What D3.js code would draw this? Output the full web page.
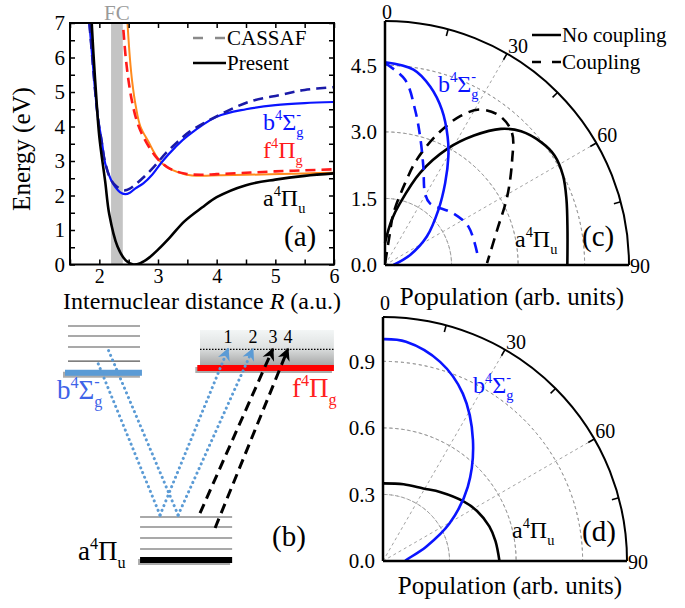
<!DOCTYPE html>
<html>
<head>
<meta charset="utf-8">
<script src="https://cdn.jsdelivr.net/npm/d3@7"></script>
<style>
  body { margin: 0; background: #fff; }
  svg text { font-family: "Liberation Serif", "Times New Roman", Tinos, "DejaVu Serif", serif !important; }
  .tick text { font-size: 21px; fill: #000; }
  .xaxis .tick text { font-size: 20px; }
  .tick line { stroke: #000; stroke-width: 1.5; }
</style>
</head>
<body>
<svg id="fig" width="685" height="608" font-family="Liberation Serif, DejaVu Serif, serif"></svg>
<script>
// ---- panel (a): potential curves, energy (eV) vs R (a.u.) ----
var rTicks = [1.5, 2, 2.5, 3, 3.5, 4, 4.5, 5, 5.5, 6];
var eTicks = [0, 0.5, 1, 1.5, 2, 2.5, 3, 3.5, 4, 4.5, 5, 5.5, 6, 6.5, 7];
var fcBand = [2.2, 2.4];

var aPiR = [1.87, 1.9, 1.95, 2.0, 2.1, 2.17, 2.31, 2.45, 2.58, 2.7, 2.85, 3.0, 3.2, 3.45, 3.75, 4.0, 4.5, 5.0, 5.5, 6.0];
var aPiE = [7.0, 6.1, 4.8, 3.7, 2.4, 1.45, 0.52, 0.12, 0.0, 0.04, 0.2, 0.43, 0.78, 1.25, 1.65, 1.95, 2.3, 2.46, 2.57, 2.64];

var bSigR = [1.83, 1.88, 1.93, 1.98, 2.04, 2.1, 2.2, 2.27, 2.35, 2.44, 2.52, 2.61, 2.75, 2.9, 3.07, 3.3, 3.5, 4.0, 4.5, 5.0, 5.5, 6.0];
var bSigE = [7.0, 6.0, 5.0, 4.2, 3.6, 2.93, 2.45, 2.25, 2.1, 2.04, 2.08, 2.2, 2.35, 2.6, 2.98, 3.41, 3.72, 4.28, 4.5, 4.62, 4.68, 4.71];

var bSigCasR = [1.83, 1.88, 1.93, 1.98, 2.04, 2.1, 2.2, 2.3, 2.43, 2.52, 2.61, 2.75, 2.93, 3.13, 3.3, 3.54, 4.04, 4.56, 5.07, 5.5, 6.0];
var bSigCasE = [7.0, 6.0, 5.0, 4.2, 3.55, 2.95, 2.45, 2.25, 2.15, 2.2, 2.31, 2.52, 2.83, 3.22, 3.5, 3.85, 4.33, 4.72, 4.91, 5.06, 5.14];

var fPiR = [2.48, 2.52, 2.56, 2.62, 2.7, 2.84, 2.95, 3.07, 3.24, 3.47, 3.73, 4.04, 4.5, 5.07, 5.5, 6.0];
var fPiE = [7.0, 6.0, 5.3, 4.6, 4.0, 3.55, 3.2, 2.93, 2.74, 2.61, 2.57, 2.59, 2.6, 2.62, 2.64, 2.66];

var fPiCasR = [2.41, 2.45, 2.5, 2.56, 2.65, 2.75, 2.85, 3.0, 3.2, 3.47, 3.75, 4.0, 4.5, 5.0, 5.5, 6.0];
var fPiCasE = [6.8, 6.0, 5.3, 4.7, 4.1, 3.7, 3.4, 3.05, 2.78, 2.63, 2.6, 2.62, 2.66, 2.7, 2.73, 2.76];

// ---- panels (c) and (d): polar populations, angle (deg) and radius ----
var cRadTicks = [0, 1.5, 3.0, 4.5];
var dRadTicks = [0, 0.3, 0.6, 0.9];
var angleLabels = [0, 30, 60, 90];

var cANoTh = [0, 8.5, 13.7, 20.9, 28.2, 34.5, 40.4, 45.5, 51.9, 57.2, 63.4, 70.1, 79, 90];
var cANoR  = [0.5, 1.03, 1.44, 2.23, 2.97, 3.54, 4.03, 4.3, 4.48, 4.55, 4.49, 4.35, 4.19, 4.11];
var cACoTh = [5, 8.7, 9.3, 13.8, 16.8, 21.7, 26.8, 31.5, 37.8, 43.9, 50.4, 60.7, 72.6, 89];
var cACoR  = [0.05, 0.65, 1.18, 1.9, 2.48, 3.16, 3.76, 4.11, 4.24, 4.13, 3.72, 3.16, 2.65, 2.3];
var cBNoTh = [0, 8.3, 14.2, 20.1, 26, 30.3, 36.3, 44.1, 55.8, 68.2, 90];
var cBNoR  = [4.57, 4.45, 4.15, 3.73, 3.22, 2.83, 2.29, 1.73, 1.14, 0.61, 0.19];
var cBCoTh = [0, 6.2, 11, 15.3, 21.3, 29.2, 36.1, 52.9, 65.3, 84];
var cBCoR  = [4.55, 4.2, 3.56, 3.0, 2.38, 1.85, 1.72, 1.93, 2.07, 2.1];

var dATh = [0, 15, 29, 40, 53, 62, 72, 80, 90];
var dAR  = [0.35, 0.358, 0.374, 0.405, 0.45, 0.48, 0.504, 0.515, 0.525];
var dBTh = [0, 6, 16, 25.5, 36.6, 48.8, 60.5, 71.7, 87.5, 90];
var dBR  = [1.0, 0.994, 0.934, 0.836, 0.68, 0.508, 0.345, 0.205, 0.105, 0.1];

// ---- panel (b): level scheme (arbitrary energy units) ----
var aLevels = [0.47, 0.94, 1.41, 1.84];
var bLevels = [8.5, 9.1, 9.57, 10];
var aGround = 0, bGround = 8.0, fGround = 8.2, fTop = 9.83, fDots = 9.0;
var transitionLabels = ["1", "2", "3", "4"];
// [x0, E0, x1, E1]
var dottedPaths = [[3.52, 1.92, 1.19, 8.5], [4.19, 1.92, 1.56, 9.1], [3.52, 1.92, 6.04, 9.02], [4.19, 1.92, 6.96, 9.02]];
var dashedPaths = [[5.0, 2.0, 7.7, 9.02], [5.56, 1.37, 8.26, 9.02]];
var arrowTipX = [6.04, 6.96, 7.7, 8.26];

var FONT = "Liberation Serif, DejaVu Serif, serif";
var svg = d3.select("#fig");
svg.append("rect").attr("width", 685).attr("height", 608).attr("fill", "#fff");

function zip(a, b) { return a.map(function(v, i) { return [v, b[i]]; }); }

function term(g, x, y, base, sym, sub, minus, size, color) {
    var t = g.append("text").attr("x", x).attr("y", y).attr("fill", color)
        .attr("font-family", FONT).style("font-size", size + "px");
    t.append("tspan").text(base);
    t.append("tspan").attr("dy", -0.42 * size).style("font-size", (0.6 * size) + "px").text("4");
    t.append("tspan").attr("dy", 0.42 * size).text(sym);
    t.append("tspan").attr("dy", 0.28 * size).style("font-size", (0.6 * size) + "px").text(sub);
    if (minus) {
        t.append("tspan").attr("dx", -0.3 * size).attr("dy", -0.72 * size)
            .style("font-size", (0.6 * size) + "px").text("-");
    }
}

// ================= panel (a) =================
var ax = { left: 70, right: 334, top: 23, bottom: 264.5 };
var x = d3.scaleLinear().domain([1.5, 6]).range([ax.left, ax.right]);
var y = d3.scaleLinear().domain([0, 7]).range([ax.bottom, ax.top]);

var ga = svg.append("g");
ga.append("clipPath").attr("id", "clipA").append("rect")
    .attr("x", ax.left).attr("y", ax.top).attr("width", ax.right - ax.left).attr("height", ax.bottom - ax.top);

ga.append("rect")
    .attr("x", x(fcBand[0])).attr("y", ax.top)
    .attr("width", x(fcBand[1]) - x(fcBand[0])).attr("height", ax.bottom - ax.top)
    .attr("fill", "#c4c4c4");

ga.append("text").attr("x", (x(fcBand[0]) + x(fcBand[1])) / 2).attr("y", 20)
    .attr("text-anchor", "middle").attr("fill", "#9a9a9a").style("font-size", "21px").text("FC");

var line = d3.line()
    .x(function(d) { return x(d[0]); })
    .y(function(d) { return y(d[1]); })
    .curve(d3.curveCatmullRom.alpha(0.5));

var curves = [
    { data: zip(fPiR, fPiE), color: "#ff8a1c", width: 2, dash: null },
    { data: zip(fPiCasR, fPiCasE), color: "#ff1a1a", width: 2.6, dash: "10,6" },
    { data: zip(bSigR, bSigE), color: "#0a14ff", width: 2.2, dash: null },
    { data: zip(bSigCasR, bSigCasE), color: "#1a1aa8", width: 2.6, dash: "10,6" },
    { data: zip(aPiR, aPiE), color: "#000", width: 2.6, dash: null }
];

ga.append("g").attr("clip-path", "url(#clipA)")
    .selectAll("path").data(curves).enter().append("path")
    .attr("d", function(d) { return line(d.data); })
    .attr("fill", "none")
    .attr("stroke", function(d) { return d.color; })
    .attr("stroke-width", function(d) { return d.width; })
    .attr("stroke-dasharray", function(d) { return d.dash; });

function intLabel(d) { return Number.isInteger(d) ? d : ""; }

function cleanAxis(g) {
    g.select(".domain").remove();
    g.attr("font-family", FONT);
}

ga.append("g").attr("class", "xaxis").attr("transform", "translate(0," + ax.bottom + ")")
    .call(d3.axisBottom(x).tickValues(rTicks).tickSize(-5).tickPadding(4).tickFormat(intLabel))
    .call(cleanAxis);
ga.append("g").attr("transform", "translate(0," + ax.top + ")")
    .call(d3.axisTop(x).tickValues(rTicks).tickSize(-5).tickFormat(""))
    .call(cleanAxis);
ga.append("g").attr("transform", "translate(" + ax.left + ",0)")
    .call(d3.axisLeft(y).tickValues(eTicks).tickSize(-5).tickPadding(5).tickFormat(intLabel))
    .call(cleanAxis);
ga.append("g").attr("transform", "translate(" + ax.right + ",0)")
    .call(d3.axisRight(y).tickValues(eTicks).tickSize(-5).tickFormat(""))
    .call(cleanAxis);

ga.append("rect")
    .attr("x", ax.left).attr("y", ax.top).attr("width", ax.right - ax.left).attr("height", ax.bottom - ax.top)
    .attr("fill", "none").attr("stroke", "#000").attr("stroke-width", 2);

ga.append("text").attr("transform", "translate(30,149) rotate(-90)").attr("font-family", FONT)
    .attr("text-anchor", "middle").style("font-size", "25px").text("Energy (eV)");

var xt = ga.append("text").attr("x", 202).attr("y", 309).attr("font-family", FONT)
    .attr("text-anchor", "middle").style("font-size", "24px");
xt.append("tspan").text("Internuclear distance ");
xt.append("tspan").style("font-style", "italic").text("R");
xt.append("tspan").text(" (a.u.)");

// legend
var legA = ga.append("g").attr("font-family", FONT);
legA.append("line").attr("x1", 193).attr("x2", 226).attr("y1", 38).attr("y2", 38)
    .attr("stroke", "#8a8a8a").attr("stroke-width", 2.5).attr("stroke-dasharray", "10,12");
legA.append("text").attr("x", 227).attr("y", 45).style("font-size", "21px").text("CASSAF");
legA.append("line").attr("x1", 193).attr("x2", 226).attr("y1", 63).attr("y2", 63)
    .attr("stroke", "#000").attr("stroke-width", 2.5);
legA.append("text").attr("x", 227).attr("y", 70).style("font-size", "21px").text("Present");

term(ga, 263, 130, "b", "\u03A3", "g", true, 24, "#0a14ff");
term(ga, 263, 158, "f", "\u03A0", "g", false, 24, "#ff1a1a");
term(ga, 263, 206, "a", "\u03A0", "u", false, 24, "#000");
ga.append("text").attr("x", 284).attr("y", 246).attr("font-family", FONT).style("font-size", "29px").text("(a)");

// ================= polar panels (c), (d) =================
function polarPanel(cfg) {
    var g = svg.append("g").attr("transform", "translate(" + cfg.cx + "," + cfg.cy + ")").attr("font-family", FONT);
    var rs = d3.scaleLinear().domain([0, cfg.max]).range([0, cfg.radius]);
    var quarter = Math.PI / 2;

    // grid arcs
    g.selectAll(".garc").data(cfg.ticks.filter(function(v) { return v > 0; })).enter().append("path")
        .attr("d", function(v) { return d3.arc()({ innerRadius: rs(v), outerRadius: rs(v), startAngle: 0, endAngle: quarter }); })
        .attr("fill", "none").attr("stroke", "#999").attr("stroke-width", 0.9).attr("stroke-dasharray", "3,3");
    // radial grid lines at 30 and 60
    g.selectAll(".gspoke").data([30, 60]).enter().append("line")
        .attr("x2", function(a) { return cfg.radius * Math.sin(a * Math.PI / 180); })
        .attr("y2", function(a) { return -cfg.radius * Math.cos(a * Math.PI / 180); })
        .attr("stroke", "#999").attr("stroke-width", 0.9).attr("stroke-dasharray", "3,3");

    var radial = d3.lineRadial()
        .angle(function(d) { return d[0] * Math.PI / 180; })
        .radius(function(d) { return rs(d[1]); })
        .curve(d3.curveCatmullRom.alpha(0.5));

    g.selectAll(".series").data(cfg.series).enter().append("path")
        .attr("d", function(d) { return radial(d.data); })
        .attr("fill", "none")
        .attr("stroke", function(d) { return d.color; })
        .attr("stroke-width", 2.6)
        .attr("stroke-dasharray", function(d) { return d.dash ? "11,7" : null; });

    // frame: two axes and outer arc
    g.append("path")
        .attr("d", d3.arc()({ innerRadius: cfg.radius, outerRadius: cfg.radius, startAngle: 0, endAngle: quarter }))
        .attr("fill", "none").attr("stroke", "#000").attr("stroke-width", 2);
    g.append("line").attr("y2", -cfg.radius).attr("stroke", "#000").attr("stroke-width", 2.5);
    g.append("line").attr("x2", cfg.radius).attr("stroke", "#000").attr("stroke-width", 2.5);

    // angular ticks every 15 deg
    g.selectAll(".atick").data(d3.range(15, 90, 15)).enter().append("line")
        .attr("x1", function(a) { return cfg.radius * Math.sin(a * Math.PI / 180); })
        .attr("y1", function(a) { return -cfg.radius * Math.cos(a * Math.PI / 180); })
        .attr("x2", function(a) { return (cfg.radius - 7) * Math.sin(a * Math.PI / 180); })
        .attr("y2", function(a) { return -(cfg.radius - 7) * Math.cos(a * Math.PI / 180); })
        .attr("stroke", "#000").attr("stroke-width", 1.6);

    // radial labels
    g.selectAll(".rlab").data(cfg.ticks).enter().append("text")
        .attr("x", -8).attr("y", function(v) { return -rs(v); }).attr("dy", "0.35em")
        .attr("text-anchor", "end").style("font-size", "21px")
        .text(function(v) { return v.toFixed(1); });

    // angle labels
    g.selectAll(".alab").data(angleLabels).enter().append("text")
        .attr("x", function(a) {
            var px = cfg.radius * Math.sin(a * Math.PI / 180);
            return a === 0 ? px + 2 : px + 1;
        })
        .attr("y", function(a) {
            var py = -cfg.radius * Math.cos(a * Math.PI / 180);
            return a === 0 ? py - cfg.zeroGap : (a === 90 ? py + 8 : py - 1);
        })
        .attr("text-anchor", function(a) { return a === 0 ? "middle" : "start"; })
        .style("font-size", "20px")
        .text(function(a) { return a; });

    svg.append("text").attr("x", cfg.cx + 127).attr("y", cfg.titleY).attr("text-anchor", "middle")
        .attr("font-family", FONT).style("font-size", "25px").text("Population (arb. units)");
    return g;
}

var gc = polarPanel({
    cx: 385, cy: 265, radius: 244, max: 5.5, ticks: cRadTicks, titleY: 305, zeroGap: 2,
    series: [
        { data: zip(cANoTh, cANoR), color: "#000", dash: false },
        { data: zip(cACoTh, cACoR), color: "#000", dash: true },
        { data: zip(cBNoTh, cBNoR), color: "#0a14ff", dash: false },
        { data: zip(cBCoTh, cBCoR), color: "#0a14ff", dash: true }
    ]
});
term(svg, 438, 92, "b", "\u03A3", "g", true, 24, "#0a14ff");
term(svg, 515, 247, "a", "\u03A0", "u", false, 24, "#000");
svg.append("text").attr("x", 582).attr("y", 246).attr("font-family", FONT).style("font-size", "29px").text("(c)");

var legC = svg.append("g").attr("font-family", FONT);
legC.append("line").attr("x1", 532).attr("x2", 561).attr("y1", 35).attr("y2", 35)
    .attr("stroke", "#000").attr("stroke-width", 2.5);
legC.append("text").attr("x", 562).attr("y", 42).style("font-size", "21px").text("No coupling");
legC.append("line").attr("x1", 532).attr("x2", 561).attr("y1", 62).attr("y2", 62)
    .attr("stroke", "#000").attr("stroke-width", 2.5).attr("stroke-dasharray", "9,11");
legC.append("text").attr("x", 562).attr("y", 69).style("font-size", "21px").text("Coupling");

var gd = polarPanel({
    cx: 383, cy: 561, radius: 244, max: 1.1, ticks: dRadTicks, titleY: 594, zeroGap: 7,
    series: [
        { data: zip(dATh, dAR), color: "#000", dash: false },
        { data: zip(dBTh, dBR), color: "#0a14ff", dash: false }
    ]
});
term(svg, 473, 393, "b", "\u03A3", "g", true, 24, "#0a14ff");
term(svg, 512, 538, "a", "\u03A0", "u", false, 24, "#000");
svg.append("text").attr("x", 582).attr("y", 541).attr("font-family", FONT).style("font-size", "29px").text("(d)");

// ================= panel (b): level scheme =================
var xb = d3.scaleLinear().domain([0, 10]).range([65, 335]);
var yb = d3.scaleLinear().domain([0, 10]).range([560, 326]);
var gb = svg.append("g").attr("font-family", FONT);

var defs = svg.append("defs");
var grad = defs.append("linearGradient").attr("id", "fgrad").attr("x1", 0).attr("x2", 0).attr("y1", 0).attr("y2", 1);
grad.append("stop").attr("offset", "0%").attr("stop-color", "#f3f6f6");
grad.append("stop").attr("offset", "45%").attr("stop-color", "#dfe2e2");
grad.append("stop").attr("offset", "100%").attr("stop-color", "#9e9e9e");

["blue", "black"].forEach(function(c) {
    defs.append("marker").attr("id", "arr-" + c)
        .attr("viewBox", "-10 -6 12 12").attr("refX", 0).attr("refY", 0)
        .attr("markerWidth", 5).attr("markerHeight", 5).attr("orient", "auto")
        .append("path").attr("d", "M-9,-5L1,0L-9,5L-6,0Z")
        .attr("fill", c === "blue" ? "#5b9bd5" : "#000");
});

// f state band
gb.append("rect").attr("x", xb(5.0)).attr("y", yb(fTop))
    .attr("width", xb(9.96) - xb(5.0)).attr("height", yb(fGround) - yb(fTop)).attr("fill", "url(#fgrad)");
gb.append("line").attr("x1", xb(5.0)).attr("x2", xb(9.96)).attr("y1", yb(fDots)).attr("y2", yb(fDots))
    .attr("stroke", "#000").attr("stroke-width", 1.2).attr("stroke-dasharray", "1.5,1.5");

// thin vibrational levels
gb.selectAll(".blev").data(bLevels).enter().append("line")
    .attr("x1", xb(0.11)).attr("x2", xb(2.78)).attr("y1", yb).attr("y2", yb)
    .attr("stroke", "#555").attr("stroke-width", 1.1);
gb.selectAll(".alev").data(aLevels).enter().append("line")
    .attr("x1", xb(2.78)).attr("x2", xb(6.19)).attr("y1", yb).attr("y2", yb)
    .attr("stroke", "#555").attr("stroke-width", 1.1);

// thick ground levels with a soft shadow
var thick = [
    { e: bGround, x0: 0.0, x1: 2.85, color: "#5b9bd5" },
    { e: fGround, x0: 4.9, x1: 9.96, color: "#ff0000" },
    { e: aGround, x0: 2.78, x1: 6.19, color: "#000" }
];
gb.selectAll(".shadow").data(thick).enter().append("line")
    .attr("x1", function(d) { return xb(d.x0) - 2; }).attr("x2", function(d) { return xb(d.x1) - 2; })
    .attr("y1", function(d) { return yb(d.e) + 2; }).attr("y2", function(d) { return yb(d.e) + 2; })
    .attr("stroke", "#666").attr("stroke-opacity", 0.55).attr("stroke-width", 6);
gb.selectAll(".thick").data(thick).enter().append("line")
    .attr("x1", function(d) { return xb(d.x0); }).attr("x2", function(d) { return xb(d.x1); })
    .attr("y1", function(d) { return yb(d.e); }).attr("y2", function(d) { return yb(d.e); })
    .attr("stroke", function(d) { return d.color; }).attr("stroke-width", 6);

// transitions
gb.selectAll(".dot").data(dottedPaths).enter().append("line")
    .attr("x1", function(d) { return xb(d[0]); }).attr("y1", function(d) { return yb(d[1]); })
    .attr("x2", function(d) { return xb(d[2]); }).attr("y2", function(d) { return yb(d[3]); })
    .attr("stroke", "#5b9bd5").attr("stroke-width", 3).attr("stroke-linecap", "round")
    .attr("stroke-dasharray", "0.1,5")
    .attr("marker-end", function(d) { return d[2] > d[0] ? "url(#arr-blue)" : null; });
gb.selectAll(".dash").data(dashedPaths).enter().append("line")
    .attr("x1", function(d) { return xb(d[0]); }).attr("y1", function(d) { return yb(d[1]); })
    .attr("x2", function(d) { return xb(d[2]); }).attr("y2", function(d) { return yb(d[3]); })
    .attr("stroke", "#000").attr("stroke-width", 3).attr("stroke-dasharray", "10,6")
    .attr("marker-end", "url(#arr-black)");

gb.selectAll(".num").data(transitionLabels).enter().append("text")
    .attr("x", function(d, i) { return xb(arrowTipX[i]); }).attr("y", 343)
    .attr("text-anchor", "middle").style("font-size", "18px").text(function(d) { return d; });

term(gb, 57, 399, "b", "\u03A3", "g", true, 27, "#3d63e8");
term(gb, 292, 397, "f", "\u03A0", "g", false, 27, "#ff2020");
term(gb, 78, 560, "a", "\u03A0", "u", false, 27, "#000");
gb.append("text").attr("x", 272).attr("y", 546).style("font-size", "29px").text("(b)");
</script>
</body>
</html>
